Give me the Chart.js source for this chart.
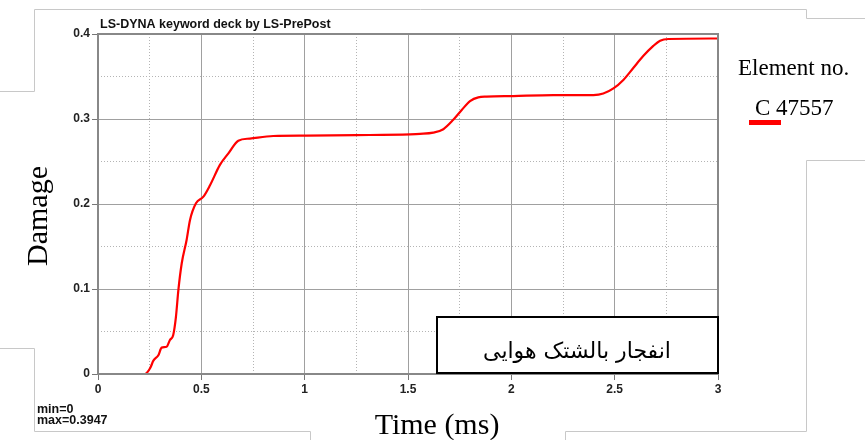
<!DOCTYPE html>
<html>
<head>
<meta charset="utf-8">
<script src="https://cdn.jsdelivr.net/npm/chart.js@4/dist/chart.umd.min.js"></script>
<style>
  html, body { margin: 0; padding: 0; background: #fff; }
</style>
</head>
<body>
<canvas id="damage-chart" width="865" height="440"></canvas>
<script>
// Damage history, element C 47557
const timeMs = [0, 0.227, 0.252, 0.268, 0.292, 0.308, 0.332, 0.348, 0.364, 0.377, 0.389, 0.405,
  0.429, 0.445, 0.474, 0.510, 0.542, 0.590, 0.631, 0.679, 0.735, 0.848, 1.01, 1.25, 1.51, 1.558,
  1.622, 1.671, 1.719, 1.76, 1.80, 1.84, 1.88, 2.01, 2.203, 2.397, 2.445, 2.494, 2.542, 2.59,
  2.638, 2.687, 2.72, 2.76, 3.0];
const damage = [0, 0, 0.0067, 0.0157, 0.022, 0.031, 0.032, 0.040, 0.046, 0.067, 0.099, 0.130,
  0.158, 0.181, 0.2008, 0.2086, 0.222, 0.246, 0.2596, 0.2745, 0.277, 0.280, 0.2804, 0.281, 0.282, 0.2825,
  0.284, 0.288, 0.299, 0.3106, 0.321, 0.3255, 0.3263, 0.327, 0.328, 0.3282, 0.330, 0.336, 0.346, 0.360,
  0.374, 0.386, 0.3921, 0.3941, 0.3947];

const xTicks = [0, 0.5, 1, 1.5, 2, 2.5, 3];
const yTicks = [0, 0.1, 0.2, 0.3, 0.4];

const isMajor = (v, step) => Math.abs(v / step - Math.round(v / step)) < 1e-6;

// Text, frame and screenshot edges
const decor = {
  id: 'decor',
  beforeDraw(chart) {
    const c = chart.ctx;
    c.save();
    c.strokeStyle = '#c8c8c8';
    c.lineWidth = 1;
    c.beginPath();
    c.moveTo(34.5, 91.5); c.lineTo(34.5, 9.5); c.lineTo(806.5, 9.5); c.lineTo(806.5, 18.5); c.lineTo(865, 18.5);
    c.moveTo(0, 91.5); c.lineTo(34.5, 91.5);
    c.moveTo(0, 348.5); c.lineTo(34.5, 348.5); c.lineTo(34.5, 431.5); c.lineTo(310.5, 431.5); c.lineTo(310.5, 440);
    c.moveTo(565.5, 440); c.lineTo(565.5, 431.5); c.lineTo(806.5, 431.5); c.lineTo(806.5, 160.5); c.lineTo(865, 160.5);
    c.stroke();
    c.restore();
  },
  afterDraw(chart) {
    const c = chart.ctx;
    const a = chart.chartArea;
    c.save();
    // plot frame
    c.strokeStyle = '#888';
    c.lineWidth = 2;
    c.strokeRect(a.left, a.top, a.right - a.left, a.bottom - a.top);

    c.fillStyle = '#111';
    c.font = 'bold 12.5px "Liberation Sans", Arial, sans-serif';
    c.textAlign = 'left';
    c.textBaseline = 'alphabetic';
    c.fillText('LS-DYNA keyword deck by LS-PrePost', 100, 28);
    c.fillText('min=0', 37, 413);
    c.fillText('max=0.3947', 37, 424);

    // axis titles
    c.fillStyle = '#000';
    c.font = '30px "Liberation Serif", "Times New Roman", serif';
    c.textAlign = 'center';
    c.fillText('Time (ms)', 437, 434);
    c.save();
    c.translate(47, 216);
    c.rotate(-Math.PI / 2);
    c.fillText('Damage', 0, 0);
    c.restore();

    // legend
    c.font = '23px "Liberation Serif", "Times New Roman", serif';
    c.textAlign = 'left';
    c.fillText('Element no.', 738, 75);
    c.fillText('C 47557', 755, 115);
    c.fillStyle = '#ff0000';
    c.fillRect(749, 120, 32, 5);

    // annotation box
    c.fillStyle = '#fff';
    c.fillRect(437, 317, 281, 56);
    c.strokeStyle = '#000';
    c.lineWidth = 2;
    c.strokeRect(437, 317, 281, 56);
    c.fillStyle = '#000';
    c.font = '22px "DejaVu Sans", sans-serif';
    c.textAlign = 'center';
    c.direction = 'rtl';
    c.fillText('انفجار بالشتک هوایی', 577, 358);
    c.restore();
  }
};

new Chart(document.getElementById('damage-chart'), {
  type: 'line',
  data: {
    datasets: [{
      label: 'C 47557',
      data: timeMs.map((t, i) => ({ x: t, y: damage[i] })),
      borderColor: '#ff0000',
      borderWidth: 2.2,
      pointRadius: 0,
      cubicInterpolationMode: 'monotone',
      fill: false
    }]
  },
  options: {
    responsive: false,
    animation: false,
    layout: { padding: { left: 0, top: 34, right: 147, bottom: 0 } },
    plugins: { legend: { display: false }, title: { display: false }, tooltip: { enabled: false } },
    scales: {
      x: {
        type: 'linear',
        min: 0,
        max: 3,
        afterFit: s => { s.height = 66; },
        ticks: {
          stepSize: 0.25,
          autoSkip: false,
          maxRotation: 0,
          padding: 2,
          color: '#222',
          font: { family: '"Liberation Sans", Arial, sans-serif', size: 12, weight: 'bold' },
          callback: v => (xTicks.some(t => Math.abs(t - v) < 1e-6) ? String(v) : '')
        },
        grid: {
          color: ctx => (ctx.tick && isMajor(ctx.tick.value, 0.5) ? '#a0a0a0' : '#b4b4b4'),
          tickColor: ctx => (ctx.tick && isMajor(ctx.tick.value, 0.5) ? '#777' : 'rgba(0,0,0,0)'),
          tickLength: 6,
          lineWidth: 1
        },
        border: {
          display: false,
          dash: ctx => (ctx.tick && !isMajor(ctx.tick.value, 0.5) ? [1, 2] : [])
        }
      },
      y: {
        min: 0,
        max: 0.4,
        afterFit: s => { s.width = 98; },
        ticks: {
          stepSize: 0.05,
          padding: 2,
          color: '#222',
          font: { family: '"Liberation Sans", Arial, sans-serif', size: 12, weight: 'bold' },
          callback: v => (yTicks.some(t => Math.abs(t - v) < 1e-6) ? String(Math.round(v * 10) / 10) : '')
        },
        grid: {
          color: ctx => (ctx.tick && isMajor(ctx.tick.value, 0.1) ? '#a0a0a0' : '#b4b4b4'),
          tickColor: ctx => (ctx.tick && isMajor(ctx.tick.value, 0.1) ? '#777' : 'rgba(0,0,0,0)'),
          tickLength: 6,
          lineWidth: 1
        },
        border: {
          display: false,
          dash: ctx => (ctx.tick && !isMajor(ctx.tick.value, 0.1) ? [1, 2] : [])
        }
      }
    }
  },
  plugins: [decor]
});
</script>
</body>
</html>
